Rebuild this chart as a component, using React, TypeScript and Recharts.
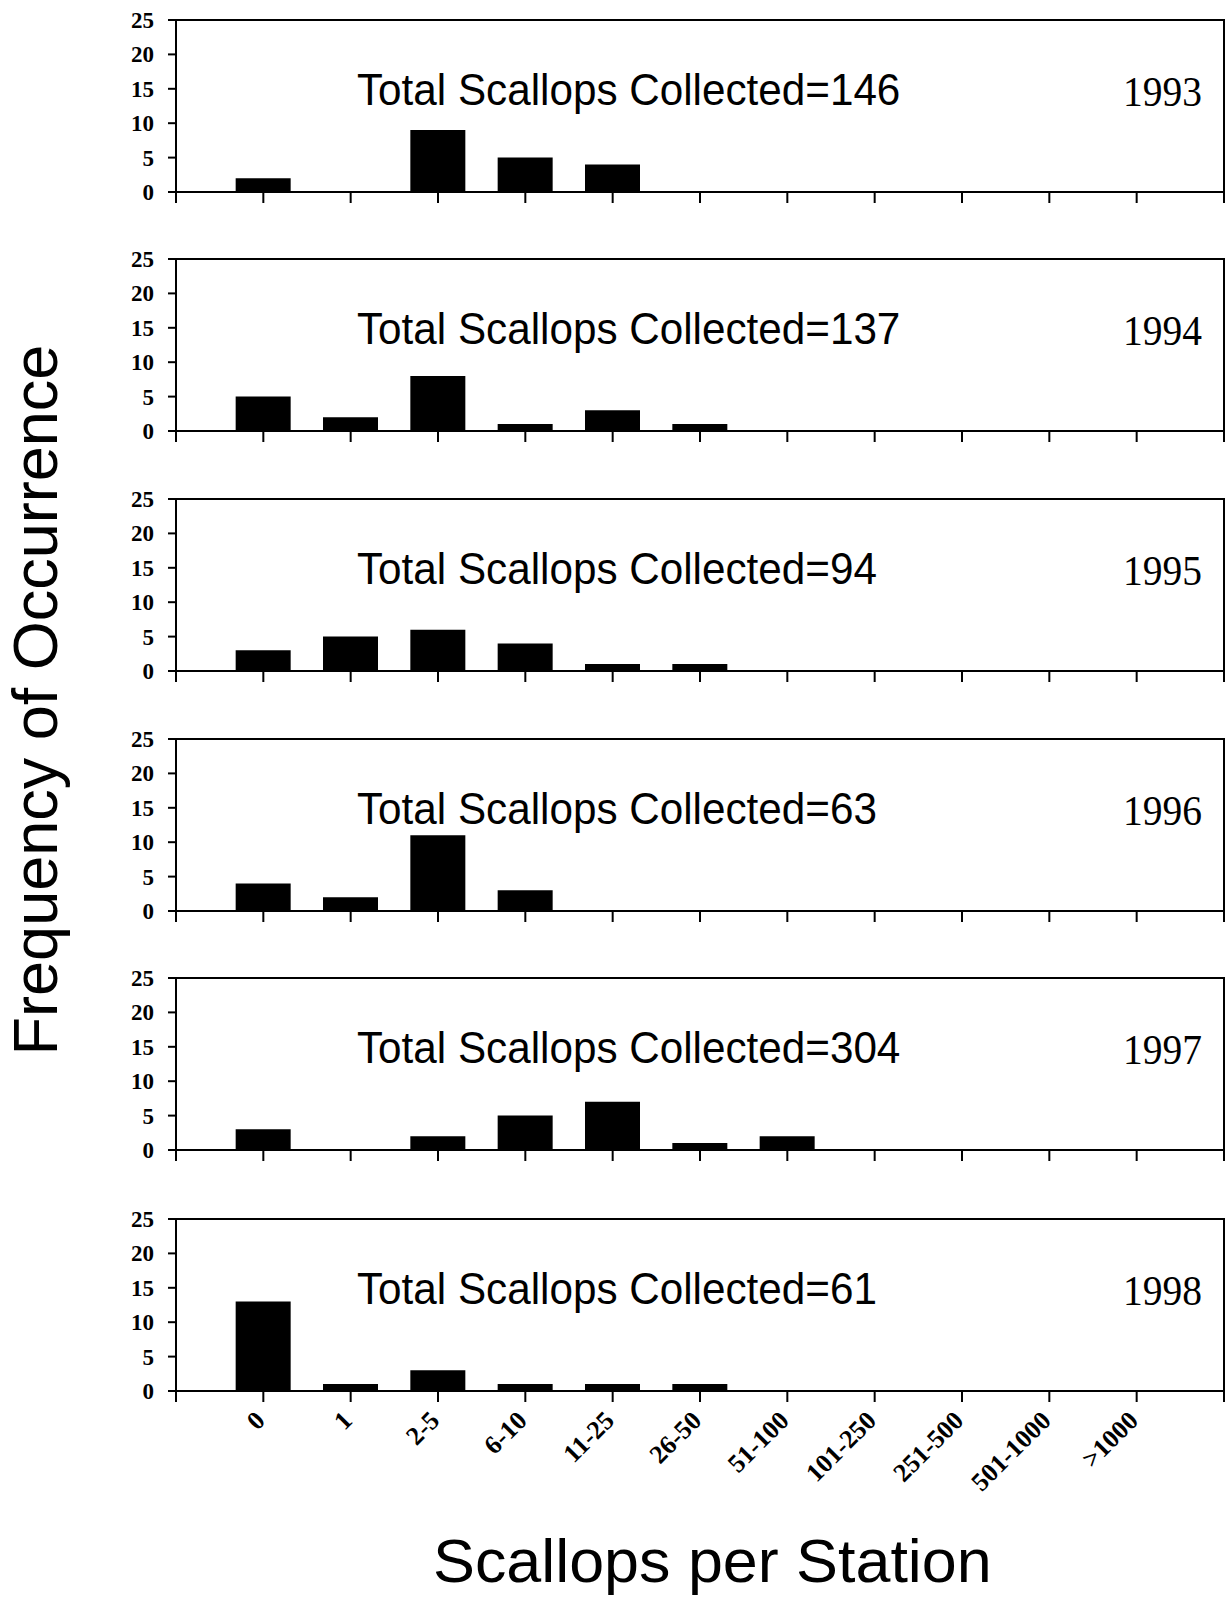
import { BarChart, Bar, XAxis, YAxis, ReferenceArea } from 'recharts';

// Station abundance classes (x positions 1..11 on a 0..12 axis)
const CATEGORIES = ['0', '1', '2-5', '6-10', '11-25', '26-50', '51-100', '101-250', '251-500', '501-1000', '>1000'];

const YEARS = [1993, 1994, 1995, 1996, 1997, 1998];
const TOTALS = [146, 137, 94, 63, 304, 61];

const COUNTS_1993 = [2, 0, 9, 5, 4, 0, 0, 0, 0, 0, 0];
const COUNTS_1994 = [5, 2, 8, 1, 3, 1, 0, 0, 0, 0, 0];
const COUNTS_1995 = [3, 5, 6, 4, 1, 1, 0, 0, 0, 0, 0];
const COUNTS_1996 = [4, 2, 11, 3, 0, 0, 0, 0, 0, 0, 0];
const COUNTS_1997 = [3, 0, 2, 5, 7, 1, 2, 0, 0, 0, 0];
const COUNTS_1998 = [13, 1, 3, 1, 1, 1, 0, 0, 0, 0, 0];

const COUNTS = [COUNTS_1993, COUNTS_1994, COUNTS_1995, COUNTS_1996, COUNTS_1997, COUNTS_1998];

const Y_TICKS = [0, 5, 10, 15, 20, 25];
const X_TICKS = [0, 1, 2, 3, 4, 5, 6, 7, 8, 9, 10, 11, 12];

const W = 1229;
const PLOT_TOP = 20;
const PLOT_H = 172;
const PANEL_TOPS = [20, 259, 499, 739, 978, 1219];

const SERIF = '"Liberation Serif", "Times New Roman", serif';
const SANS = '"Liberation Sans", Arial, sans-serif';

const CategoryTick = (props: any) => {
  const { x, y, payload } = props;
  const label = CATEGORIES[payload.value - 1];
  if (!label) return <g />;
  return (
    <g transform={`translate(${x + 3},${y + 20})`}>
      <text transform="rotate(-45)" textAnchor="end" fontFamily={SERIF} fontSize={26}
        fontWeight="bold" fill="#000">
        {label}
      </text>
    </g>
  );
};

const CountTick = (props: any) => {
  const { x, y, payload } = props;
  return (
    <text x={x} y={y} dy={8} textAnchor="end" fontFamily={SERIF} fontSize={23}
      fontWeight="bold" fill="#000">
      {payload.value}
    </text>
  );
};

const NoTick = () => <g />;

function Panel({ idx }: { idx: number }) {
  const last = idx === YEARS.length - 1;
  const data = COUNTS[idx].map((n, i) => ({ pos: i + 1, n }));
  const axisH = last ? 120 : 47;
  return (
    <div style={{ position: 'absolute', left: 0, top: PANEL_TOPS[idx] - PLOT_TOP }}>
      <BarChart width={W} height={PLOT_TOP + PLOT_H + axisH} data={data}
        margin={{ top: PLOT_TOP, right: 5, left: 116, bottom: 0 }}>
        <ReferenceArea x1={0} x2={12} y1={0} y2={25} fill="none" stroke="#000"
          strokeWidth={2} ifOverflow="visible" />
        <XAxis dataKey="pos" type="number" domain={[0, 12]} ticks={X_TICKS} interval={0}
          allowDataOverflow height={axisH} tickSize={11} tickMargin={0}
          stroke="#000" strokeWidth={2} tick={last ? CategoryTick : NoTick} />
        <YAxis type="number" domain={[0, 25]} ticks={Y_TICKS} interval={0} width={60}
          tickSize={8} tickMargin={14} stroke="#000" strokeWidth={2} tick={CountTick} />
        <Bar dataKey="n" fill="#000" barSize={55} isAnimationActive={false} />
      </BarChart>
    </div>
  );
}

export default function App() {
  return (
    <div style={{ position: 'absolute', left: 0, top: 0, width: W, height: 1597, background: '#fff' }}>
      {YEARS.map((_, i) => <Panel key={i} idx={i} />)}
      <svg width={W} height={1597} style={{ position: 'absolute', left: 0, top: 0, pointerEvents: 'none' }}>
        {YEARS.map((yr, i) => (
          <g key={yr}>
            <text transform={`translate(357,${PANEL_TOPS[i] + 85}) scale(0.96,1)`} fontFamily={SANS}
              fontSize={44} fill="#000">
              Total Scallops Collected={TOTALS[i]}
            </text>
            <text transform={`translate(1202,${PANEL_TOPS[i] + 86}) scale(0.94,1)`} textAnchor="end"
              fontFamily={SERIF} fontSize={42} fill="#000">
              {yr}
            </text>
          </g>
        ))}
        <text transform="translate(57,700) rotate(-90)" textAnchor="middle" fontFamily={SANS}
          fontSize={63} fill="#000">
          Frequency of Occurrence
        </text>
        <text transform="translate(433,1582) scale(1.03,1)" fontFamily={SANS} fontSize={61} fill="#000">
          Scallops per Station
        </text>
      </svg>
    </div>
  );
}
